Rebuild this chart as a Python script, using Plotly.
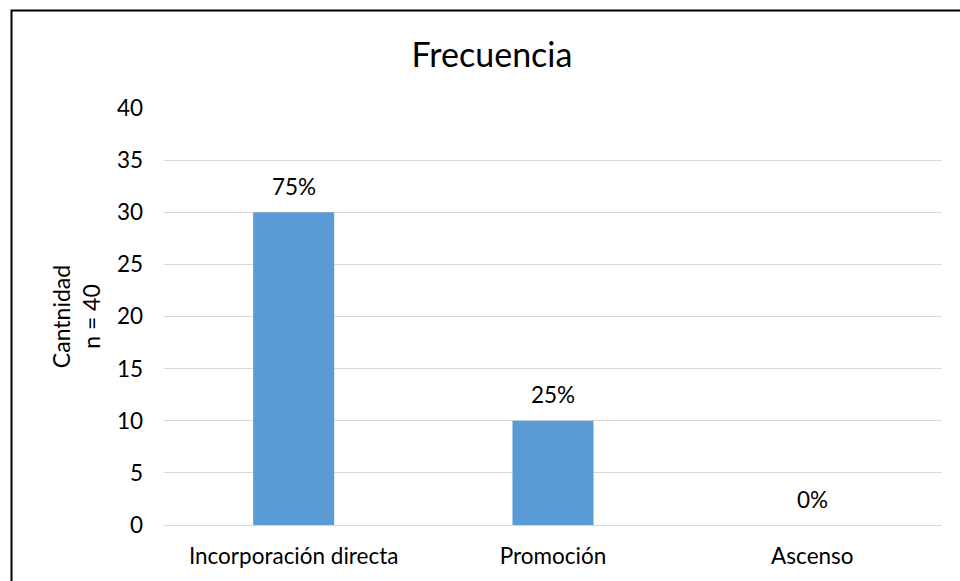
import plotly.graph_objects as go

# Categories and counts (n = 40)
categorias = ["Incorporación directa", "Promoción", "Ascenso"]
cantidades = [30, 10, 0]
porcentajes = ["75%", "25%", "0%"]
y_ticks = [0, 5, 10, 15, 20, 25, 30, 35, 40]

FONT = "Lato"
TXT = "#000000"
BAR = "#5B9BD5"
GRID = "#D9D9D9"

fig = go.Figure()
fig.add_trace(go.Bar(
    x=categorias,
    y=cantidades,
    marker=dict(color=BAR, line=dict(width=0)),
    hoverinfo="skip",
    showlegend=False,
))

# Percentage labels above each bar
for cat, val, pct in zip(categorias, cantidades, porcentajes):
    fig.add_annotation(
        x=cat, y=val, text=pct, showarrow=False,
        xref="x", yref="y", yanchor="middle", yshift=26,
        font=dict(family=FONT, size=22.5, color=TXT),
    )

fig.update_layout(
    width=960, height=581,
    margin=dict(l=164, r=18, t=108, b=56),
    paper_bgcolor="white", plot_bgcolor="white",
    bargap=0.6875,
    title=dict(
        text="Frecuencia", x=0.4216, xref="paper", xanchor="center",
        y=1 - 55 / 581, yref="container", yanchor="middle",
        font=dict(family=FONT, size=34, color=TXT),
    ),
    font=dict(family=FONT, size=22.5, color=TXT),
    xaxis=dict(
        showgrid=False, showline=True, linecolor=GRID, linewidth=1,
        ticks="", ticklabelstandoff=11,
        tickfont=dict(family=FONT, size=22.5, color=TXT),
    ),
    yaxis=dict(
        range=[0, 40], tickvals=y_ticks,
        showgrid=True, gridcolor=GRID, gridwidth=1,
        zeroline=False, showline=False, ticks="",
        ticklabelstandoff=20,
        tickfont=dict(family=FONT, size=22.5, color=TXT),
        title=dict(text="Cantnidad<br>n = 40", standoff=9,
                   font=dict(family=FONT, size=23, color=TXT)),
    ),
    shapes=[
        # chart frame (top and left edges fall inside the page)
        dict(type="rect", xref="paper", yref="paper",
             x0=(11.5 - 164) / 778, x1=1.2,
             y0=-0.5, y1=(525 - 10.5) / 417,
             line=dict(color="black", width=2), fillcolor="rgba(0,0,0,0)",
             layer="above"),
    ],
)

fig.write_html("out.html")
